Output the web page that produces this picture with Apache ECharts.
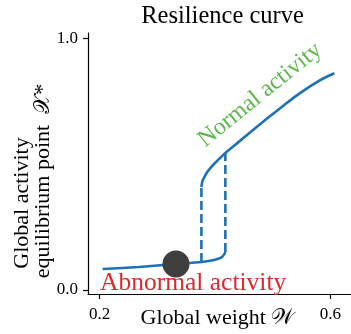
<!DOCTYPE html>
<html>
<head>
<meta charset="utf-8">
<script src="https://cdn.jsdelivr.net/npm/echarts@6/dist/echarts.min.js"></script>
<style>html,body{margin:0;padding:0;background:#fff}#c{width:351px;height:334px}</style>
</head>
<body>
<div id="c"></div>
<script>
// Lower (abnormal) branch
const lowerW = [0.2051, 0.2678, 0.3322, 0.3763, 0.3983, 0.4119, 0.4161, 0.4178];
const lowerX = [0.0835, 0.0915, 0.1034, 0.1113, 0.1193, 0.1312, 0.1431, 0.1510];
// Upper (normal) branch
const upperW = [0.3763, 0.3780, 0.3814, 0.3864, 0.3932, 0.4034, 0.4178, 0.4400, 0.4600, 0.4800, 0.5000, 0.5200, 0.5400, 0.5600, 0.5750, 0.5900, 0.6068];
const upperX = [0.4095, 0.4330, 0.4490, 0.4690, 0.4890, 0.5130, 0.5450, 0.5870, 0.6250, 0.6630, 0.7000, 0.7360, 0.7710, 0.8030, 0.8250, 0.8440, 0.8620];
// Tipping transitions (dashed)
const jumpUpW = [0.3763, 0.3763];
const jumpUpX = [0.1113, 0.4095];
const jumpDownW = [0.4178, 0.4178];
const jumpDownX = [0.1510, 0.5450];
// Current state point
const stateW = [0.3322];
const stateX = [0.1034];
// Ticks
const xTicks = [0.2, 0.6];
const yTicks = [0.0, 1.0];

const zip = (a, b) => a.map((v, i) => [v, b[i]]);
const FONT = '"Liberation Serif", "DejaVu Serif", "DejaVu Sans", serif';
const BLUE = '#1f71b6';

const chart = echarts.init(document.getElementById('c'), null, {renderer: 'canvas'});
chart.setOption({
  animation: false,
  grid: {left: 88, top: 33, width: 269, height: 261, containLabel: false},
  xAxis: {
    type: 'value', min: 0.1797, max: 0.6356,
    splitLine: {show: false},
    axisLine: {show: true, onZero: false, lineStyle: {color: '#000', width: 1.2}},
    axisTick: {show: true, length: 5, inside: false, customValues: xTicks, lineStyle: {color: '#000', width: 1.2}},
    axisLabel: {show: true, customValues: xTicks, margin: 12, color: '#000', fontFamily: FONT, fontSize: 17,
      formatter: v => v.toFixed(1)}
  },
  yAxis: {
    type: 'value', min: -0.0159, max: 1.0219,
    splitLine: {show: false},
    axisLine: {show: true, onZero: false, lineStyle: {color: '#000', width: 1.2}},
    axisTick: {show: true, length: 5, customValues: yTicks, lineStyle: {color: '#000', width: 1.2}},
    axisLabel: {show: true, customValues: yTicks, margin: 10, color: '#000', fontFamily: FONT, fontSize: 17,
      formatter: v => v.toFixed(1)}
  },
  series: [
    {type: 'line', data: zip(lowerW, lowerX), smooth: 0.25, symbol: 'none',
      lineStyle: {color: BLUE, width: 2.6}, z: 3},
    {type: 'line', data: zip(upperW, upperX), smooth: 0.25, symbol: 'none',
      lineStyle: {color: BLUE, width: 2.6}, z: 3},
    {type: 'line', data: zip(jumpUpW, jumpUpX), symbol: 'none',
      lineStyle: {color: BLUE, width: 2.6, type: [9, 4]}, z: 2},
    {type: 'line', data: zip(jumpDownW, jumpDownX), symbol: 'none',
      lineStyle: {color: BLUE, width: 2.6, type: [9, 4]}, z: 2},
    {type: 'scatter', data: zip(stateW, stateX), symbolSize: 27,
      itemStyle: {color: '#3f3f3f', opacity: 1}, z: 5}
  ],
  graphic: [
    {type: 'text', x: 222.5, y: 17, style: {text: 'Resilience curve', font: '24.5px ' + FONT, fill: '#000', align: 'center', verticalAlign: 'middle'}},
    {type: 'text', x: 217.5, y: 318, style: {text: 'Global weight 𝒲', font: '22px ' + FONT, fill: '#000', align: 'center', verticalAlign: 'middle'}},
    {type: 'text', x: 22, y: 203, rotation: Math.PI / 2, style: {text: 'Global activity', font: '22px ' + FONT, fill: '#000', align: 'center', verticalAlign: 'middle'}},
    {type: 'text', x: 43, y: 181, rotation: Math.PI / 2, style: {text: 'equilibrium point  𝒳*', font: '22px ' + FONT, fill: '#000', align: 'center', verticalAlign: 'middle'}},
    {type: 'text', x: 100, y: 283, z: 10, style: {text: 'Abnormal activity', font: '25.5px ' + FONT, fill: '#d62a2f', align: 'left', verticalAlign: 'middle'}},
    {type: 'text', x: 260, y: 95, rotation: 39 * Math.PI / 180, z: 10, style: {text: 'Normal activity', font: '24px ' + FONT, fill: '#5db84a', align: 'center', verticalAlign: 'middle'}}
  ]
});
</script>
</body>
</html>
